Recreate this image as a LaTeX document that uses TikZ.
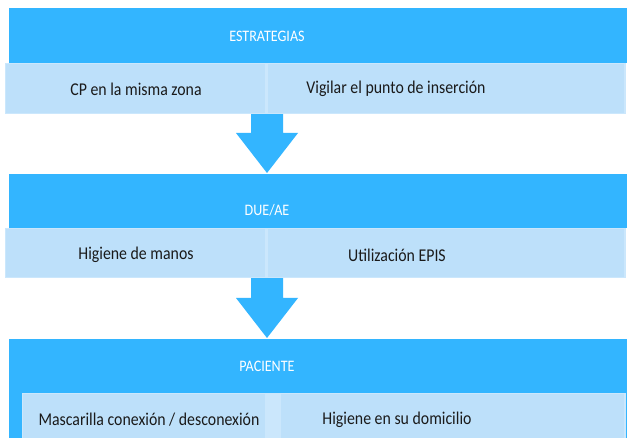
\documentclass[tikz,border=0pt]{standalone}
\usepackage{fontspec}
\setmainfont[FakeStretch=0.88]{Carlito}
\definecolor{bandblue}{HTML}{33B5FF}
\definecolor{boxblue}{HTML}{BDE0FA}
\definecolor{boxedge}{HTML}{CBE7FC}
\definecolor{txt}{HTML}{1A1A1A}
\begin{document}
\begin{tikzpicture}[x=1pt,y=-1pt,
  band/.style={fill=bandblue,draw=none},
  lbox/.style={fill=boxblue,draw=boxedge,line width=1.2pt},
  head/.style={text=white,font=\fontsize{16}{18}\selectfont,inner sep=0pt},
  item/.style={text=txt,font=\fontsize{18}{21}\selectfont,inner sep=0pt},
  blockarrow/.style={fill=bandblue,draw=none}]
\useasboundingbox[fill=white] (0,0) rectangle (627,438);
% band 1
\fill[band] (9,8) rectangle (627,63);
\node[head] (h1) at (267,36) {ESTRATEGIAS};
\draw[lbox] (5.6,63.6) rectangle (266,113.4);
\draw[lbox] (267.6,63.6) rectangle (625,113.4);
\node[item] (a1) at (136,89) {CP en la misma zona};
\node[item] (a2) at (396,89) {Vigilar el punto de inserción};
% arrow 1
\fill[blockarrow] (251,114.2) -- (283,114.2) -- (283,133) -- (298,133) -- (267,173) -- (236,133) -- (251,133) -- cycle;
% band 2
\fill[band] (9,174) rectangle (627,228);
\node[head] (h2) at (267,210) {DUE/AE};
\draw[lbox] (5.6,228.6) rectangle (266,277.4);
\draw[lbox] (267.6,228.6) rectangle (625,277.4);
\node[item] (b1) at (136,255) {Higiene de manos};
\node[item] (b2) at (397,255) {Utilización EPIS};
% arrow 2
\fill[blockarrow] (251,278.2) -- (283,278.2) -- (283,298) -- (298,298) -- (267,338) -- (236,298) -- (251,298) -- cycle;
% band 3
\fill[band] (9,339) rectangle (627,440);
\node[head] (h3) at (267,366) {PACIENTE};
\fill[boxedge] (266,393) rectangle (281,440);
\draw[lbox] (22.6,393.6) rectangle (266,445);
\draw[lbox] (280.6,393.6) rectangle (625,445);
\node[item] (c1) at (149,420) {Mascarilla conexión / desconexión};
\node[item] (c2) at (397,420) {Higiene en su domicilio};
\end{tikzpicture}
\end{document}
